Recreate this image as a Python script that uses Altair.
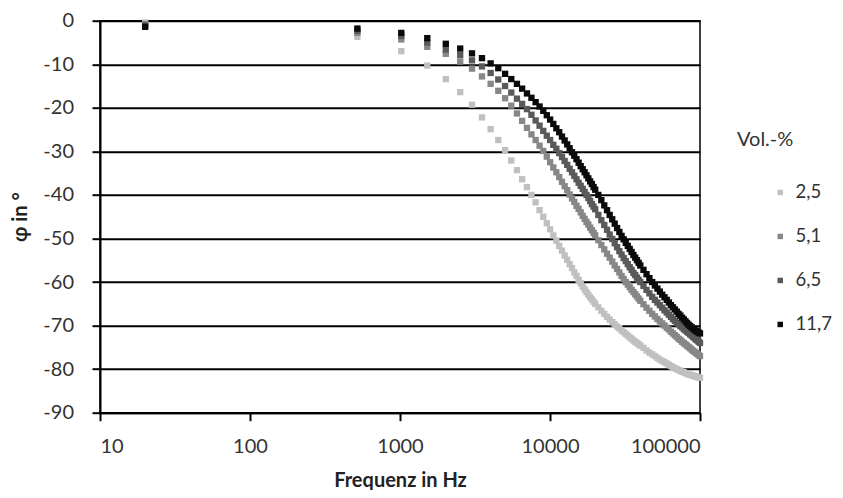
import altair as alt
import pandas as pd

# Frequencies in Hz (measurement points; dense band at high frequency)
freq = [20,
        520, 1020, 1520, 2020, 2520, 3020, 3520, 4020, 4520, 5020,
        5520, 6020, 6520, 7020, 7520, 8020, 8520, 9020, 9520, 10020,
        10520, 11020, 11520, 12020, 12520, 13020, 13520, 14020, 14520, 15020,
        15520, 16020, 16520, 17020, 17520, 18020, 18520, 19020, 19520, 20020,
        21000, 22000, 23000, 24000, 25000, 26000, 27000, 28000, 29000, 30000,
        31000, 32000, 33000, 34000, 35000, 36000, 37000, 38000, 39000, 40000,
        42000, 44000, 46000, 48000, 50000, 52000, 54000, 56000, 58000, 60000,
        62000, 64000, 66000, 68000, 70000, 72000, 74000, 76000, 78000, 80000,
        82000, 84000, 86000, 88000, 90000, 92000, 94000, 96000, 98000, 100000]

phi_2_5 = [-0.4,
           -3.7, -7.0, -10.3, -13.4, -16.4, -19.3, -22.2, -24.9, -27.4, -29.7,
           -32.1, -34.3, -36.4, -38.2, -40.0, -41.7, -43.5, -45.0, -46.5, -47.9,
           -49.3, -50.5, -51.7, -52.8, -53.9, -54.9, -55.9, -56.8, -57.8, -58.6,
           -59.5, -60.3, -61.0, -61.7, -62.3, -62.9, -63.5, -64.0, -64.5, -65.0,
           -65.8, -66.6, -67.3, -68.0, -68.6, -69.2, -69.7, -70.2, -70.6, -71.1,
           -71.5, -71.9, -72.3, -72.7, -73.0, -73.4, -73.7, -74.0, -74.3, -74.6,
           -75.1, -75.7, -76.2, -76.6, -77.0, -77.4, -77.8, -78.1, -78.4, -78.7,
           -79.0, -79.3, -79.5, -79.8, -80.0, -80.2, -80.4, -80.6, -80.7, -80.9,
           -81.0, -81.2, -81.3, -81.4, -81.5, -81.6, -81.7, -81.8, -81.9, -82.0]

phi_5_1 = [-0.8,
           -2.8, -4.3, -6.0, -7.6, -9.4, -11.0, -12.8, -14.5, -16.1, -17.8,
           -19.5, -21.3, -23.0, -24.6, -26.1, -27.4, -28.7, -29.9, -31.2, -32.5,
           -33.7, -34.8, -35.9, -37.0, -38.0, -38.9, -39.9, -40.8, -41.6, -42.5,
           -43.2, -44.0, -44.8, -45.5, -46.2, -46.8, -47.5, -48.1, -48.7, -49.3,
           -50.4, -51.5, -52.5, -53.5, -54.4, -55.3, -56.2, -57.0, -57.8, -58.6,
           -59.3, -60.0, -60.6, -61.2, -61.8, -62.3, -62.8, -63.3, -63.8, -64.3,
           -65.1, -65.9, -66.6, -67.3, -67.9, -68.5, -69.0, -69.5, -70.0, -70.5,
           -70.9, -71.4, -71.8, -72.2, -72.6, -73.0, -73.3, -73.7, -74.0, -74.3,
           -74.6, -74.9, -75.2, -75.5, -75.8, -76.0, -76.3, -76.5, -76.8, -77.0]

phi_6_5 = [-1.1,
           -2.3, -3.5, -5.0, -6.6, -7.9, -9.1, -10.5, -12.0, -13.5, -15.0,
           -16.5, -17.9, -19.1, -20.3, -21.6, -22.9, -24.1, -25.3, -26.4, -27.4,
           -28.5, -29.4, -30.4, -31.3, -32.2, -33.1, -34.0, -34.8, -35.6, -36.4,
           -37.2, -37.9, -38.6, -39.3, -40.0, -40.7, -41.4, -42.1, -42.7, -43.3,
           -44.6, -45.8, -46.9, -48.0, -49.1, -50.1, -51.1, -52.0, -52.9, -53.7,
           -54.5, -55.2, -55.9, -56.6, -57.2, -57.9, -58.4, -59.0, -59.5, -60.0,
           -60.9, -61.8, -62.6, -63.4, -64.1, -64.7, -65.3, -65.9, -66.5, -67.0,
           -67.5, -68.0, -68.5, -68.9, -69.3, -69.7, -70.1, -70.4, -70.8, -71.1,
           -71.4, -71.7, -72.0, -72.3, -72.6, -72.9, -73.2, -73.4, -73.7, -74.0]

phi_11_7 = [-1.4,
            -1.8, -2.8, -4.0, -5.3, -6.4, -7.5, -8.6, -9.8, -10.9, -12.2,
            -13.4, -14.5, -15.6, -16.7, -17.7, -18.7, -19.7, -20.7, -21.7, -22.7,
            -23.7, -24.7, -25.6, -26.6, -27.5, -28.4, -29.3, -30.2, -31.0, -31.8,
            -32.6, -33.4, -34.1, -34.8, -35.5, -36.2, -36.9, -37.5, -38.2, -38.8,
            -40.0, -41.2, -42.4, -43.5, -44.6, -45.6, -46.6, -47.6, -48.5, -49.4,
            -50.2, -51.0, -51.7, -52.4, -53.1, -53.8, -54.4, -55.0, -55.6, -56.2,
            -57.2, -58.2, -59.1, -60.0, -60.8, -61.5, -62.2, -62.9, -63.5, -64.1,
            -64.7, -65.3, -65.8, -66.3, -66.8, -67.3, -67.7, -68.2, -68.6, -69.0,
            -69.4, -69.8, -70.1, -70.4, -70.7, -70.9, -71.2, -71.4, -71.6, -71.8]

series_labels = ["2,5", "5,1", "6,5", "11,7"]
series_colors = ["#c0c0c0", "#878787", "#5a5a5a", "#0a0a0a"]
x_ticks = [10, 100, 1000, 10000, 100000]
y_ticks = [-90, -80, -70, -60, -50, -40, -30, -20, -10, 0]

rows = []
for lab, vals in zip(series_labels, [phi_2_5, phi_5_1, phi_6_5, phi_11_7]):
    for f, v in zip(freq, vals):
        rows.append({"f": f, "phi": v, "vol": lab})
df = pd.DataFrame(rows)

FONT = "Lato"

chart = alt.Chart(df).mark_square(size=40, opacity=1).encode(
    x=alt.X("f:Q",
            scale=alt.Scale(type="log", domain=[10, 100000]),
            axis=alt.Axis(values=x_ticks, format="d", title="Frequenz in Hz",
                          grid=False, tickSize=8, labelPadding=15.5,
                          titleX=300, titleY=73.5, titleAlign="center",
                          titleBaseline="alphabetic")),
    y=alt.Y("phi:Q",
            scale=alt.Scale(domain=[-90, 0], nice=False),
            axis=alt.Axis(values=y_ticks, labelExpr="datum.value + ''",
                          title="φ in °", grid=True, tickSize=8, labelPadding=18.5,
                          titleX=-74, titleY=196, titleAngle=270,
                          titleAlign="center", titleBaseline="alphabetic")),
    color=alt.Color("vol:N",
                    scale=alt.Scale(domain=series_labels, range=series_colors),
                    legend=alt.Legend(title="Vol.-%", orient="none",
                                      legendX=637, legendY=109.5,
                                      symbolType="square", symbolSize=30,
                                      symbolStrokeWidth=0, symbolOffset=34,
                                      labelOffset=6, titlePadding=33,
                                      rowPadding=25, padding=0)),
).properties(
    width=600,
    height=392,
    autosize=alt.AutoSizeParams(type="none"),
    padding={"left": 92, "top": 12.7, "right": 135, "bottom": 77.3},
).configure_view(
    stroke="black", strokeWidth=1.5
).configure_axis(
    labelFont=FONT, labelFontSize=20, labelColor="#333333",
    titleFont=FONT, titleFontSize=20, titleFontWeight="bold", titleColor="#222222",
    domainColor="black", domainWidth=2, tickColor="black", tickWidth=2,
    gridColor="black", gridWidth=2, gridOpacity=1,
).configure_legend(
    titleFont=FONT, titleFontSize=20, titleFontWeight="normal", titleColor="#333333",
    labelFont=FONT, labelFontSize=18.5, labelColor="#333333",
)

chart.save("out.html", embed_options={"renderer": "svg", "actions": False})
